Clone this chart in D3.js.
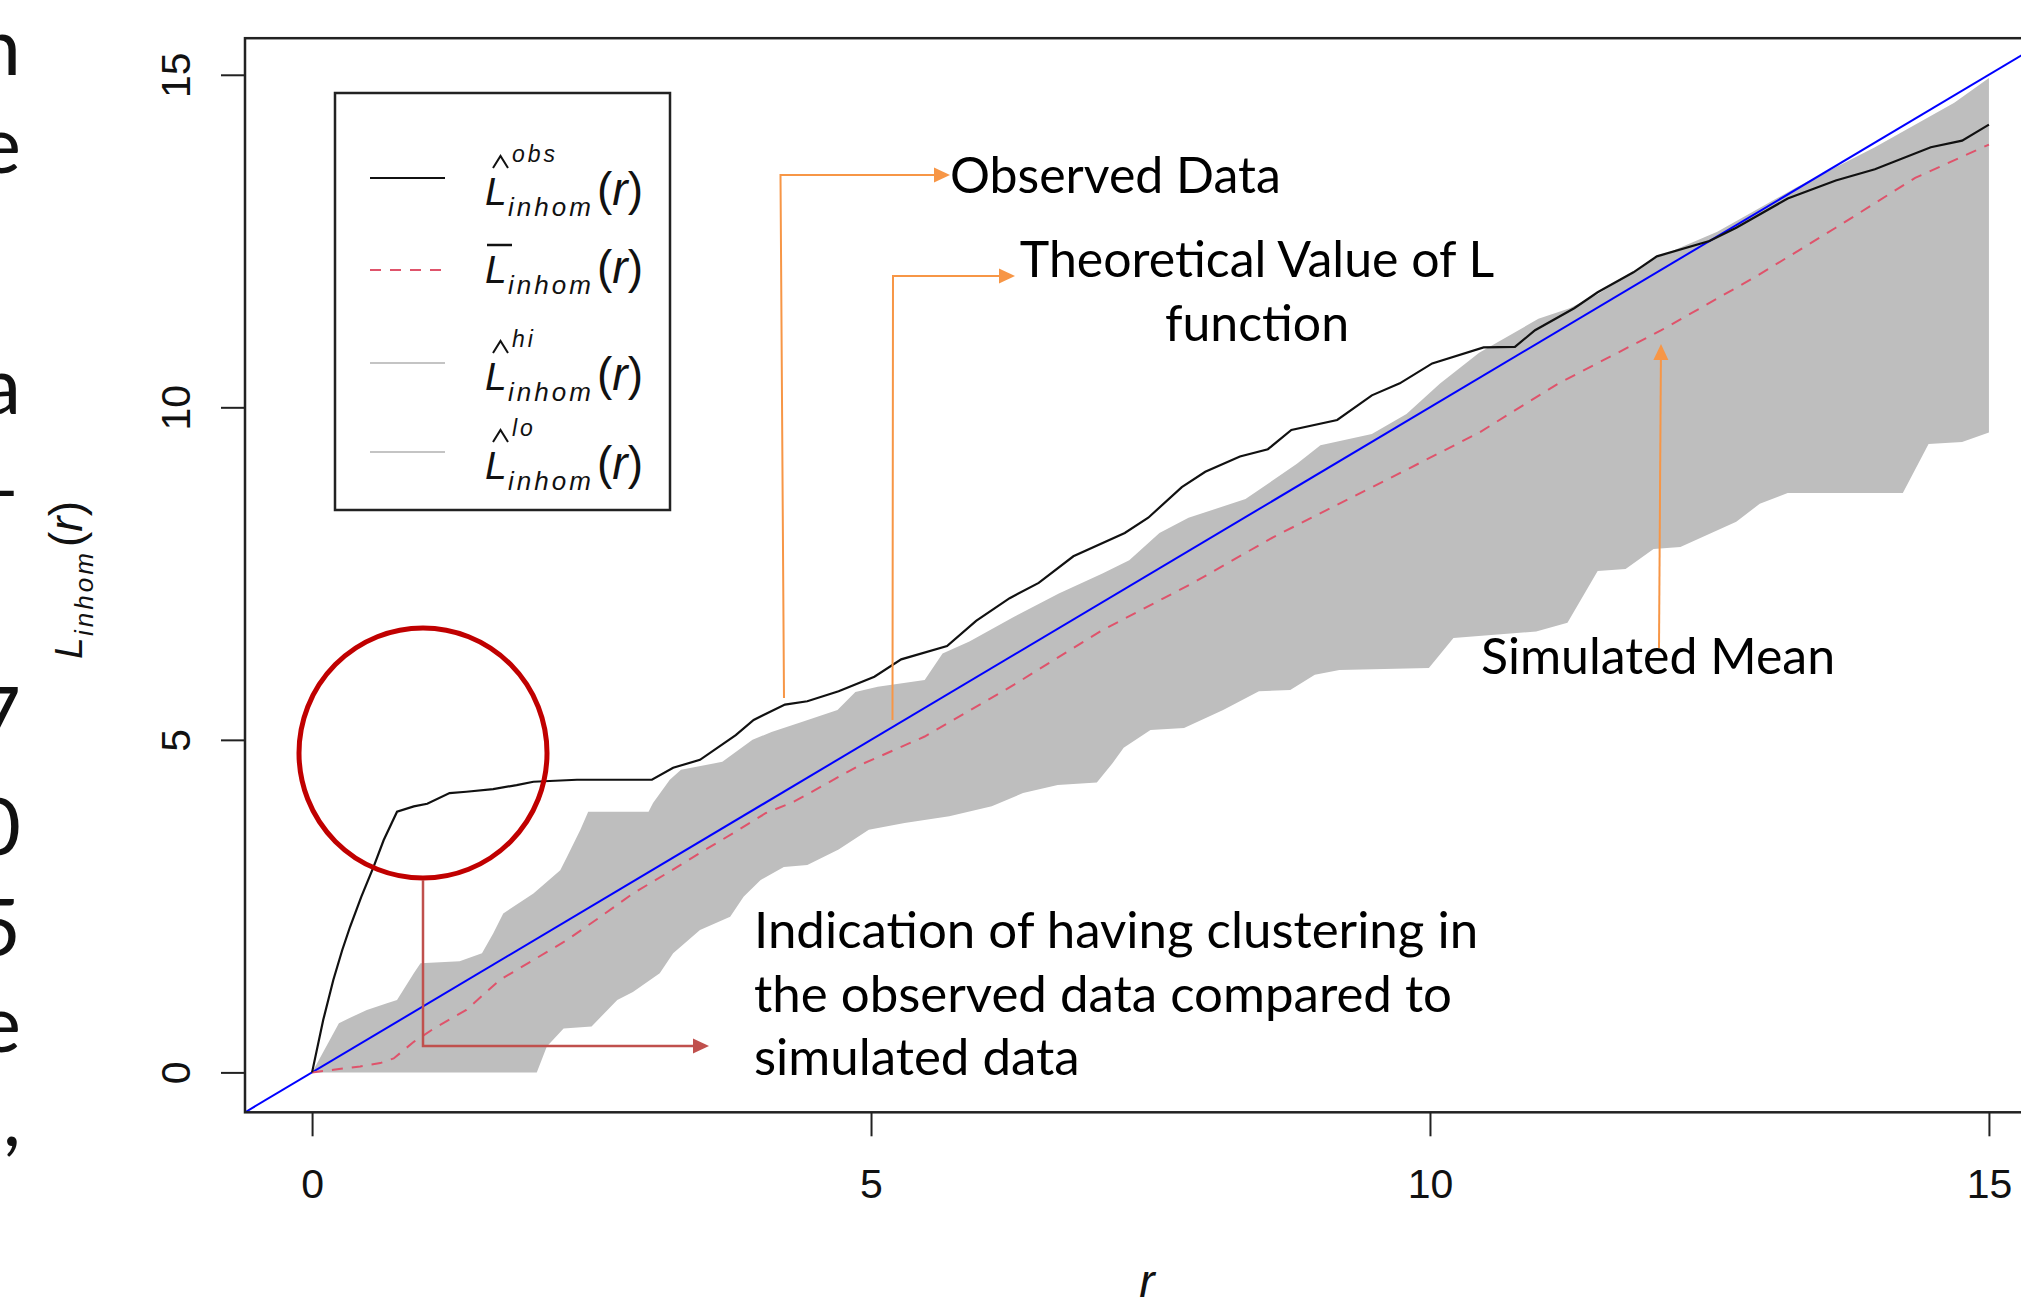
<!DOCTYPE html>
<html lang="en">
<head>
<meta charset="UTF-8">
<title>L inhom envelope</title>
<script src="https://d3js.org/d3.v7.min.js"></script>
<style>
    body { margin: 0; background: #fff; }
    svg { display: block; }
    .rtxt { font-family: "Liberation Sans", Arial, sans-serif; fill: #111; }
    .note { font-family: Lato, "Open Sans", sans-serif; font-size: 50px; fill: #000; }
    .frag { font-family: Lato, sans-serif; font-size: 80px; fill: #111; }
</style>
</head>
<body>
<svg id="canvas" width="2021" height="1299"></svg>
<script>
// envelope curves, [r, L(r)]
const obsPts = [[0,0],[0.10,0.79],[0.19,1.39],[0.27,1.84],[0.34,2.19],[0.44,2.64],[0.55,3.09],[0.64,3.49],
    [0.76,3.92],[0.91,4.00],[1.03,4.04],[1.23,4.20],[1.38,4.22],[1.62,4.26],[1.83,4.32],[1.98,4.37],[2.37,4.40],
    [3.04,4.40],[3.23,4.58],[3.47,4.70],[3.79,5.07],[3.95,5.30],[4.23,5.53],[4.43,5.58],[4.71,5.73],[5.03,5.95],
    [5.27,6.21],[5.68,6.41],[5.94,6.79],[6.24,7.13],[6.50,7.36],[6.81,7.76],[7.27,8.11],[7.48,8.34],[7.78,8.80],
    [7.99,9.03],[8.30,9.26],[8.55,9.37],[8.76,9.66],[9.17,9.81],[9.48,10.18],[9.73,10.36],[10.02,10.66],
    [10.48,10.90],[10.76,10.91],[10.94,11.16],[11.29,11.49],[11.50,11.73],[11.82,12.03],[12.03,12.27],
    [12.50,12.50],[12.74,12.70],[13.20,13.14],[13.63,13.41],[13.98,13.58],[14.48,13.91],[14.76,14.01],[15.0,14.25]];

const meanPts = [[0,0],[0.19,0.04],[0.43,0.09],[0.61,0.14],[0.73,0.21],[0.91,0.46],[1.09,0.66],[1.38,0.94],
    [1.68,1.39],[1.98,1.69],[2.28,1.99],[2.58,2.34],[2.87,2.69],[3.17,2.99],[3.47,3.30],[3.77,3.60],[4.06,3.90],
    [4.31,4.07],[4.90,4.62],[5.48,5.05],[6.28,5.83],[7.07,6.65],[7.88,7.36],[8.60,8.05],[9.73,9.01],[10.44,9.62],
    [11.15,10.36],[12.07,11.16],[12.92,11.97],[13.63,12.70],[14.34,13.45],[15.0,13.95]];

const hiPts = [[0,0],[0.24,0.74],[0.34,0.82],[0.49,0.94],[0.67,1.04],[0.76,1.09],[0.91,1.49],[0.97,1.64],
    [1.32,1.67],[1.52,1.79],[1.62,2.09],[1.71,2.39],[1.98,2.69],[2.22,3.04],[2.28,3.24],[2.40,3.65],[2.47,3.92],
    [3.01,3.92],[3.05,4.05],[3.20,4.40],[3.30,4.55],[3.67,4.67],[3.94,5.00],[4.11,5.12],[4.38,5.27],[4.70,5.45],
    [4.86,5.72],[5.06,5.80],[5.48,5.90],[5.64,6.30],[5.88,6.48],[6.28,6.85],[6.68,7.20],[7.07,7.50],[7.31,7.70],
    [7.58,8.11],[7.84,8.34],[8.35,8.62],[8.81,9.15],[9.02,9.43],[9.48,9.60],[9.79,9.90],[10.09,10.36],
    [10.44,10.82],[10.73,11.10],[10.97,11.33],[11.25,11.49],[11.50,11.70],[12.0,12.23],[12.57,12.64],
    [13.28,13.31],[13.98,13.91],[14.69,14.58],[15.0,14.95]];

const loPts = [[0,0],[2.01,0],[2.10,0.39],[2.25,0.66],[2.50,0.69],[2.73,1.09],[2.87,1.21],[3.11,1.49],
    [3.23,1.79],[3.47,2.14],[3.74,2.34],[3.86,2.64],[4.01,2.89],[4.22,3.09],[4.43,3.12],[4.71,3.35],[4.98,3.65],
    [5.30,3.75],[5.70,3.85],[6.08,4.00],[6.36,4.20],[6.67,4.32],[7.02,4.36],[7.16,4.65],[7.26,4.88],[7.50,5.15],
    [7.80,5.18],[8.15,5.45],[8.47,5.73],[8.75,5.75],[8.97,5.98],[9.19,6.05],[9.99,6.08],[10.21,6.53],
    [10.95,6.63],[11.23,6.76],[11.50,7.54],[11.75,7.57],[12.0,7.87],[12.24,7.90],[12.74,8.28],[12.95,8.55],
    [13.2,8.71],[14.23,8.71],[14.46,9.45],[14.76,9.48],[15.0,9.62]];

const theoRange = [-0.6, 15.6];   // abline L = r over the whole plot
const xTicks = [0, 5, 10, 15];
const yTicks = [0, 5, 10, 15];
const legendSup = ["obs", "", "hi", "lo"];
const notes = ["Observed Data", "Theoretical Value of L", "function", "Simulated Mean",
    "Indication of having clustering in", "the observed data compared to", "simulated data"];
const edgeChars = ["n", "e", "a", "\u2013", "7", "0", "5", "e", ","];

const svg = d3.select("#canvas");

let x = d3.scaleLinear().domain([-0.6, 15.6]).range([245, 2056]);
let y = d3.scaleLinear().domain([-0.6, 15.55]).range([1112.3, 38.2]);

svg.append("defs").append("clipPath").attr("id", "plotclip")
    .append("rect").attr("x", 245).attr("y", 38.2).attr("width", 1811).attr("height", 1074.1);

let plot = svg.append("g").attr("clip-path", "url(#plotclip)");
let line = d3.line().x(d => x(d[0])).y(d => y(d[1]));

// grey envelope between lo and hi
plot.append("path")
    .attr("d", line(hiPts.concat(loPts.slice().reverse())) + "Z")
    .attr("fill", "#bebebe");

plot.append("path").attr("d", line(theoRange.map(r => [r, r])))
    .attr("fill", "none").attr("stroke", "#0000ff").attr("stroke-width", 2);

plot.append("path").attr("d", line(meanPts))
    .attr("fill", "none").attr("stroke", "#df536b").attr("stroke-width", 2)
    .attr("stroke-dasharray", "11 9");

plot.append("path").attr("d", line(obsPts))
    .attr("fill", "none").attr("stroke", "#111").attr("stroke-width", 2.2);

// box
svg.append("rect").attr("x", 245).attr("y", 38.2).attr("width", 1811).attr("height", 1074.1)
    .attr("fill", "none").attr("stroke", "#222").attr("stroke-width", 2.5);

// axes
let xAxis = svg.append("g").attr("transform", "translate(0,1112.3)")
    .call(d3.axisBottom(x).tickValues(xTicks).tickSize(24).tickPadding(33));
let yAxis = svg.append("g").attr("transform", "translate(245,0)")
    .call(d3.axisLeft(y).tickValues(yTicks).tickSize(24));
[xAxis, yAxis].forEach(a => {
    a.select(".domain").remove();
    a.selectAll("line").attr("stroke", "#222").attr("stroke-width", 2);
    a.selectAll("text").attr("class", "rtxt").style("font-size", "41px")
        .attr("font-family", null).attr("fill", "#111");
});
yAxis.selectAll("text")
    .attr("transform", "rotate(-90)")
    .attr("x", 0).attr("y", -55).attr("dy", 0)
    .attr("text-anchor", "middle");

// L_inhom(r) written as R plotmath would
function mathL(g, x0, base, sup, accent) {
    g.append("text").attr("class", "rtxt").attr("x", x0).attr("y", base)
        .style("font-size", "39px").style("font-style", "italic").text("L");
    g.append("text").attr("class", "rtxt").attr("x", x0 + 23).attr("y", base + 11)
        .style("font-size", "26px").style("font-style", "italic").style("letter-spacing", "3px")
        .text("inhom");
    let p = g.append("text").attr("class", "rtxt").attr("x", x0 + 112).attr("y", base)
        .style("font-size", "46px");
    p.append("tspan").text("(");
    p.append("tspan").style("font-style", "italic").text("r");
    p.append("tspan").text(")");
    if (accent === "hat") {
        g.append("path")
            .attr("d", `M${x0 + 8},${base - 37} L${x0 + 15.5},${base - 49} L${x0 + 23},${base - 37}`)
            .attr("fill", "none").attr("stroke", "#111").attr("stroke-width", 2);
    } else if (accent === "bar") {
        g.append("line").attr("x1", x0 + 2).attr("x2", x0 + 27)
            .attr("y1", base - 38).attr("y2", base - 38)
            .attr("stroke", "#111").attr("stroke-width", 2.5);
    }
    if (sup) {
        g.append("text").attr("class", "rtxt").attr("x", x0 + 27).attr("y", base - 43)
            .style("font-size", "23px").style("font-style", "italic").style("letter-spacing", "3px")
            .text(sup);
    }
}

// legend
let leg = svg.append("g");
leg.append("rect").attr("x", 335).attr("y", 93).attr("width", 335).attr("height", 417)
    .attr("fill", "#fff").attr("stroke", "#222").attr("stroke-width", 2.5);
let rowY = [178, 270, 363, 452];
let rowStroke = ["#111", "#df536b", "#c4c4c4", "#c4c4c4"];
legendSup.forEach((s, i) => {
    leg.append("line").attr("x1", 370).attr("x2", 445).attr("y1", rowY[i]).attr("y2", rowY[i])
        .attr("stroke", rowStroke[i]).attr("stroke-width", 2)
        .attr("stroke-dasharray", i === 1 ? "11 9" : null);
    mathL(leg, 485, rowY[i] + (s ? 27 : 13), s, s ? "hat" : "bar");
});

// axis titles
let ylab = svg.append("g").attr("transform", "translate(82,659) rotate(-90)");
mathL(ylab, 0, 0, "", null);
svg.append("text").attr("class", "rtxt").attr("x", 1147).attr("y", 1297)
    .attr("text-anchor", "middle").style("font-size", "46px").style("font-style", "italic").text("r");

// slide annotations
let orange = "#f79646";
function arrow(pts, color, width) {
    let n = pts.length, a = pts[n - 2], b = pts[n - 1];
    let ang = Math.atan2(b[1] - a[1], b[0] - a[0]), L = 16, W = 7.5;
    let base = [b[0] - L * Math.cos(ang), b[1] - L * Math.sin(ang)];
    let shaft = pts.slice(0, n - 1).concat([base]);
    svg.append("path").attr("d", d3.line()(shaft))
        .attr("fill", "none").attr("stroke", color).attr("stroke-width", width);
    let px = -Math.sin(ang) * W, py = Math.cos(ang) * W;
    svg.append("path")
        .attr("d", d3.line()([b, [base[0] + px, base[1] + py], [base[0] - px, base[1] - py]]) + "Z")
        .attr("fill", color);
}
arrow([[784, 698], [780.5, 175], [950, 175]], orange, 2);
arrow([[892.5, 720], [893, 276], [1015, 276]], orange, 2);
arrow([[1659, 648], [1661, 344]], orange, 2);

svg.append("ellipse").attr("cx", 423).attr("cy", 753).attr("rx", 124).attr("ry", 125)
    .attr("fill", "none").attr("stroke", "#c00000").attr("stroke-width", 5);
arrow([[423, 880], [423, 1046], [709, 1046]], "#c0504d", 2.5);

svg.append("text").attr("class", "note").attr("x", 950).attr("y", 193).text(notes[0]);
svg.append("text").attr("class", "note").attr("x", 1257).attr("y", 277)
    .attr("text-anchor", "middle").text(notes[1]);
svg.append("text").attr("class", "note").attr("x", 1257).attr("y", 341)
    .attr("text-anchor", "middle").text(notes[2]);
svg.append("text").attr("class", "note").attr("x", 1481).attr("y", 674).text(notes[3]);
[948, 1012, 1075].forEach((b, i) => {
    svg.append("text").attr("class", "note").attr("x", 754).attr("y", b)
        .style("font-size", "51px").text(notes[4 + i]);
});

// pieces of the slide text cut off at the left edge
let edgeBase = [75, 173, 414, 517, 744, 855, 956, 1052, 1146];
edgeChars.forEach((c, i) => {
    svg.append("text").attr("class", "frag").attr("x", 21).attr("y", edgeBase[i])
        .attr("text-anchor", "end").text(c);
});
</script>
</body>
</html>
